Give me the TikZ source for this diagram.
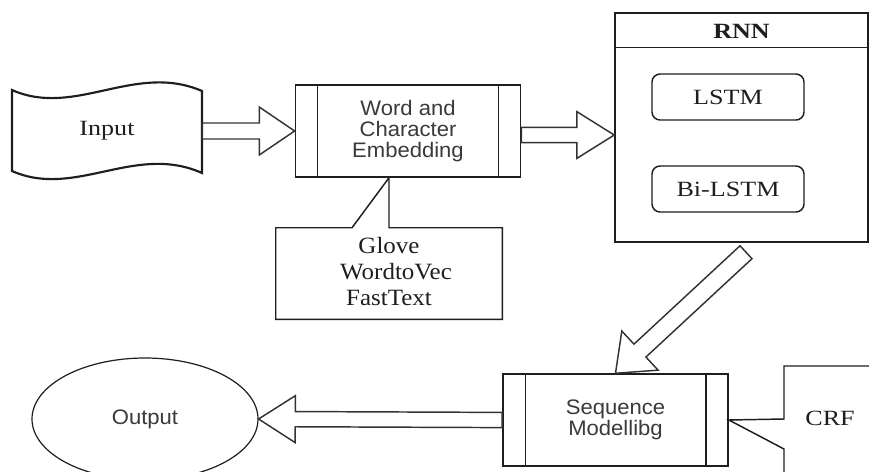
\documentclass[tikz,border=0pt]{standalone}
\usepackage{fontspec}
\setmainfont{Liberation Serif}
\newfontfamily\labelserif[FakeStretch=1.2]{Liberation Serif}
\newfontfamily\labelsans[FakeStretch=1.05]{Liberation Sans}
\newfontfamily\noteserif[FakeStretch=1.07]{Liberation Serif}
\usetikzlibrary{calc,shapes.geometric}

\definecolor{edge}{HTML}{1E1E1E}
\definecolor{arrowedge}{HTML}{333333}
\definecolor{sanstext}{HTML}{3A3A3A}
\definecolor{seriftext}{HTML}{1E1E1E}

\newcommand\notefont{\noteserif\fontsize{17.5pt}{20pt}\selectfont}

% hollow block arrow: {tail}{tip}{shaft half width}{head half width}{head length}
\newcommand\blockarrow[5]{%
  \coordinate (headbase) at ($(#2)!#5!(#1)$);
  \draw[arrowline]
    ($(#1)!#3!90:(#2)$) -- ($(headbase)!#3!90:(#2)$) --
    ($(headbase)!#4!90:(#2)$) -- (#2) --
    ($(headbase)!#4!-90:(#2)$) -- ($(headbase)!#3!-90:(#2)$) --
    ($(#1)!#3!-90:(#2)$) -- cycle;
}

\tikzset{
  px/.style={x=0.75pt,y=-0.75pt},
  edgeline/.style={draw=edge,line width=1.1pt},
  arrowline/.style={draw=arrowedge,line width=1.1pt,fill=white,line join=miter},
  serifbig/.style={font=\labelserif\fontsize{16.3pt}{18pt}\selectfont,text=seriftext},
  sanslabel/.style={font=\labelsans\fontsize{15.75pt}{16pt}\selectfont,text=sanstext,align=center},
  noteline/.style={anchor=base,inner sep=0pt,text=seriftext},
  procbox/.style={edgeline,rectangle,fill=white,inner sep=0pt,
    minimum width=169pt,minimum height=69pt,sanslabel,
    path picture={\draw[edge,line width=1.1pt]
      ([xshift=16.8pt]path picture bounding box.north west) --
      ([xshift=16.8pt]path picture bounding box.south west)
      ([xshift=-16.8pt]path picture bounding box.north east) --
      ([xshift=-16.8pt]path picture bounding box.south east);}},
  roundbox/.style={edgeline,rectangle,rounded corners=6pt,inner sep=0pt,
    minimum width=114pt,minimum height=34.5pt,serifbig},
}

\begin{document}
\begin{tikzpicture}[px]
\useasboundingbox (0,0) rectangle (869,472);
\clip (0,0) rectangle (869,472);
\fill[white] (0,0) rectangle (869,472);

% input document (wavy tape)
\draw[edgeline,line width=1.6pt]
  (12,90) .. controls (75,118) and (135,62) .. (202,91) --
  (202,173) .. controls (135,143) and (75,199) .. (12,171) -- cycle;
\node[inner sep=0pt,minimum width=142.5pt,minimum height=60pt,serifbig] (input) at (107,131) {Input};

% embedding block
\node[procbox] (emb) at (408,131) {Word and\\Character\\Embedding};

% RNN container
\node[edgeline,rectangle,inner sep=0pt,minimum width=189.75pt,minimum height=171.75pt] (rnn) at (741.5,127.5) {};
\draw[edgeline] ([yshift=-26.25pt]rnn.north west) -- ([yshift=-26.25pt]rnn.north east);
\node[font=\labelserif\bfseries\fontsize{16.3pt}{18pt}\selectfont,text=seriftext] (rnntitle) at (741.5,31) {RNN};
\node[roundbox] (lstm) at (728,97) {LSTM};
\node[roundbox] (bilstm) at (728,189) {Bi-LSTM};

% embedding callout
\node[inner sep=0pt,minimum width=169.5pt,minimum height=68.25pt] (notes) at (389,273.5) {};
\draw[edgeline,fill=white] (notes.north west) -- ([xshift=-27.75pt]notes.north) --
  (notes.north |- emb.south) -- (notes.north) -- (notes.north east) --
  (notes.south east) -- (notes.south west) -- cycle;
\node[noteline] (note1) at (389,253) {\notefont Glove};
\node[noteline] (note2) at (396,279) {\notefont WordtoVec};
\node[noteline] (note3) at (389,305) {\notefont FastText};

% sequence modelling block
\node[procbox] (seq) at (615.5,420) {Sequence\\Modellibg};

% CRF callout
\draw[edgeline] (784,480) -- (784,449) -- (seq.east) -- (784,419) -- (784,366) -- (880,366);
\node[serifbig] (crf) at (830,418) {CRF};

% output
\node[draw=edge,line width=0.9pt,ellipse,inner sep=0pt,minimum width=169.5pt,minimum height=91.5pt,
  font=\labelsans\fontsize{15.75pt}{16pt}\selectfont,text=sanstext] (output) at (145,419) {Output};

% connectors
\coordinate (embout) at ([yshift=-3pt]emb.east);
\coordinate (rnnin) at (rnn.west |- embout);
\coordinate (rnnfoot) at ($(rnn.south)+(4.5,9.5)$);

\blockarrow{input.east}{emb.west}{6pt}{18pt}{26.5pt}
\blockarrow{embout}{rnnin}{5.7pt}{17.5pt}{28pt}
\blockarrow{rnnfoot}{seq.north}{6.6pt}{20pt}{25pt}
\blockarrow{seq.west}{output.east}{5.7pt}{17.6pt}{27.5pt}
\end{tikzpicture}
\end{document}
